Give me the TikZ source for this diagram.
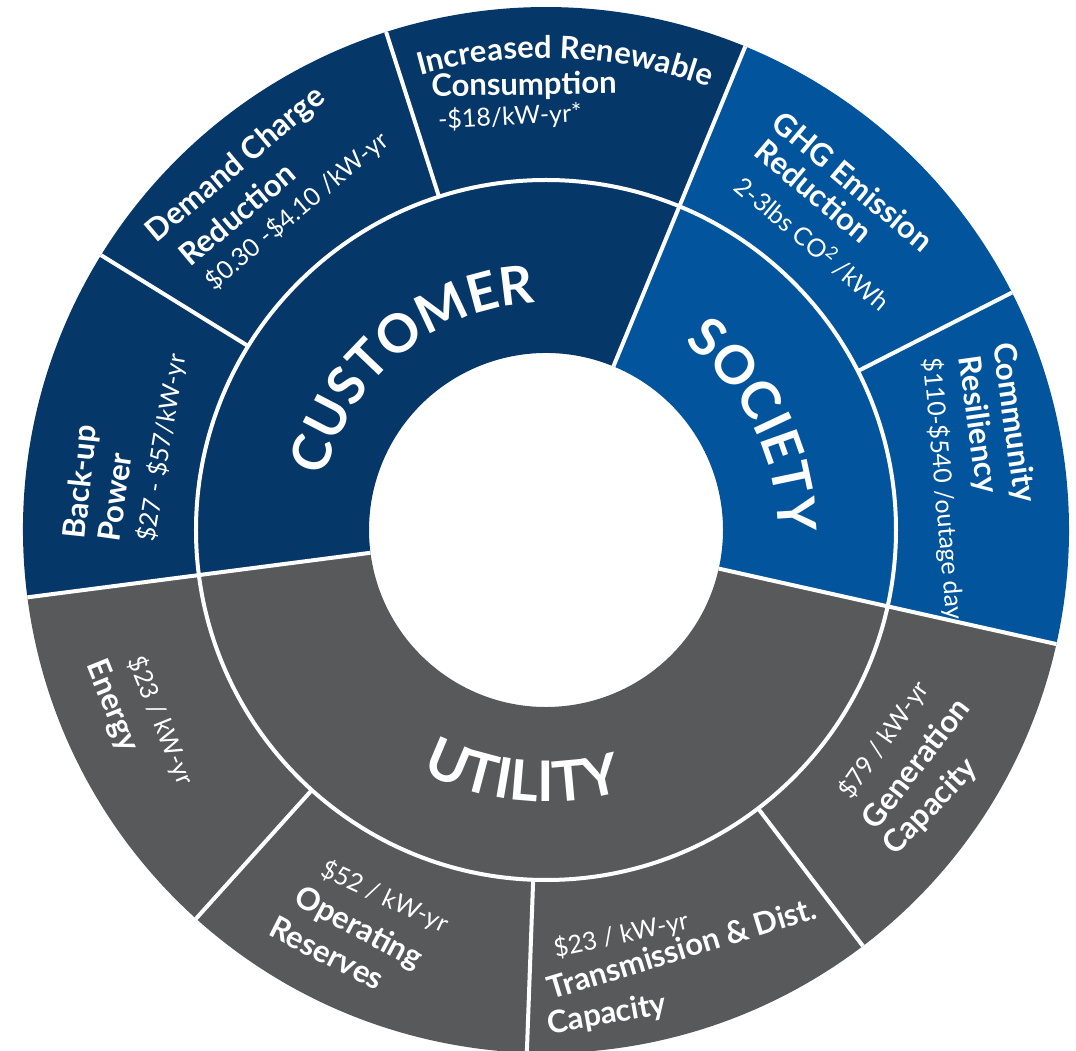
\documentclass[tikz,border=0pt]{standalone}
\usepackage{fontspec}
\setmainfont{Lato}
\usetikzlibrary{decorations.text}
\definecolor{custblue}{HTML}{053769}
\definecolor{socblue}{HTML}{02559D}
\definecolor{utilgray}{HTML}{58595B}
\tikzset{
  lbl/.style={text=white, font=\fontsize{31}{33}\selectfont\bfseries, inner sep=0pt},
  val/.style={text=white, font=\fontsize{25}{27}\selectfont, inner sep=0pt},
  sep/.style={white, line width=4pt},
}
\newcommand{\catfont}{\fontsize{53}{53}\selectfont\bfseries}
\newcommand{\utilfont}{\fontsize{56}{56}\selectfont\bfseries}
\newcommand{\lblfont}{\fontsize{31}{33}\selectfont\bfseries}
\begin{document}
\begin{tikzpicture}[x=1pt, y=1pt]
\useasboundingbox (-546,-521) rectangle (530,530);
% sectors of the three categories
\fill[custblue] (67.6:177) arc[start angle=67.6, end angle=187.4, radius=177]
  -- (187.4:523) arc[start angle=187.4, end angle=67.6, radius=523] -- cycle;
\fill[socblue] (-12.6:177) arc[start angle=-12.6, end angle=67.6, radius=177]
  -- (67.6:523) arc[start angle=67.6, end angle=-12.6, radius=523] -- cycle;
\fill[utilgray] (187.4:177) arc[start angle=187.4, end angle=347.4, radius=177]
  -- (347.4:523) arc[start angle=347.4, end angle=187.4, radius=523] -- cycle;
% white separators
\draw[sep] (0,0) circle[radius=350];
\foreach \a in {67.6,-12.6,187.4} \draw[sep] (\a:177) -- (\a:523);
\foreach \a in {148.3,107.8,27,-52.7,267.9,228} \draw[sep] (\a:350) -- (\a:523);
% category names along the inner ring
\path[decorate, decoration={text along path, text align=center, text color=white,
    text={|\catfont|CUSTOMER}}]
  (185:227) arc[start angle=185, end angle=74, radius=227];
\path[decorate, decoration={text along path, text align=center, text color=white,
    text={|\catfont|SOCIETY}}]
  (67:232) arc[start angle=67, end angle=-14, radius=232];
\path[decorate, decoration={text along path, text align=center, text color=white,
    text={|\utilfont|UTILITY}}]
  (229.6:272) arc[start angle=229.6, end angle=299.6, radius=272];
% customer benefits
\node[lbl, rotate=84] (bk1) at (-464, 48) {Back-up};
\node[lbl, rotate=82] (bk2) at (-431, 33) {Power};
\node[val, rotate=80.5] (bk3) at (-384, 82) {\$27 - \$57/kW-yr};
\node[lbl, rotate=40] (dc1) at (-310, 365) {Demand Charge};
\node[lbl, rotate=40] (dc2) at (-309, 316) {Reduction};
\node[val, rotate=40] (dc3) at (-249, 319) {\$0.30 -\$4.10 /kW-yr};
\path[decorate, decoration={text along path, text align=center, text color=white,
    text={|\lblfont|Increased Renewable}}]
  (115:472) arc[start angle=115, end angle=60.3, radius=472];
\node[lbl, rotate=1] (ir2) at (-22, 444) {Consumption};
\node[val, rotate=3] (ir3) at (-36, 413) {-\$18/kW-yr*};
% society benefits
\node[lbl, rotate=-40] (gh1) at (307, 349) {GHG Emission};
\node[lbl, rotate=-40] (gh2) at (268, 339) {Reduction};
\node[val, rotate=-40] (gh3) at (267, 287) {2-3lbs CO\textsuperscript{2} /kWh};
\node[lbl, rotate=-82] (cr1) at (467, 107) {Community};
\node[lbl, rotate=-82] (cr2) at (431, 105) {Resiliency};
\node[val, rotate=-85] (cr3) at (397, 41) {\$110-\$540 /outage day};
% utility benefits
\node[val, rotate=55] (gc1) at (338, -210) {\$79 / kW-yr};
\node[lbl, rotate=52] (gc2) at (369, -233) {Generation};
\node[lbl, rotate=46] (gc3) at (385, -277) {Capacity};
\node[val, rotate=12] (td1) at (75, -405) {\$23 / kW-yr};
\node[lbl, rotate=17] (td2) at (136, -418) {Transmission \& Dist.};
\node[lbl, rotate=10] (td3) at (61, -485) {Capacity};
\node[val, rotate=-25] (or1) at (-161, -367) {\$52 / kW-yr};
\node[lbl, rotate=-28] (or2) at (-188, -399) {Operating};
\node[lbl, rotate=-27] (or3) at (-219, -423) {Reserves};
\node[val, rotate=-68] (en1) at (-385, -191) {\$23 / kW-yr};
\node[lbl, rotate=-68] (en2) at (-434, -176) {Energy};
\end{tikzpicture}
\end{document}
